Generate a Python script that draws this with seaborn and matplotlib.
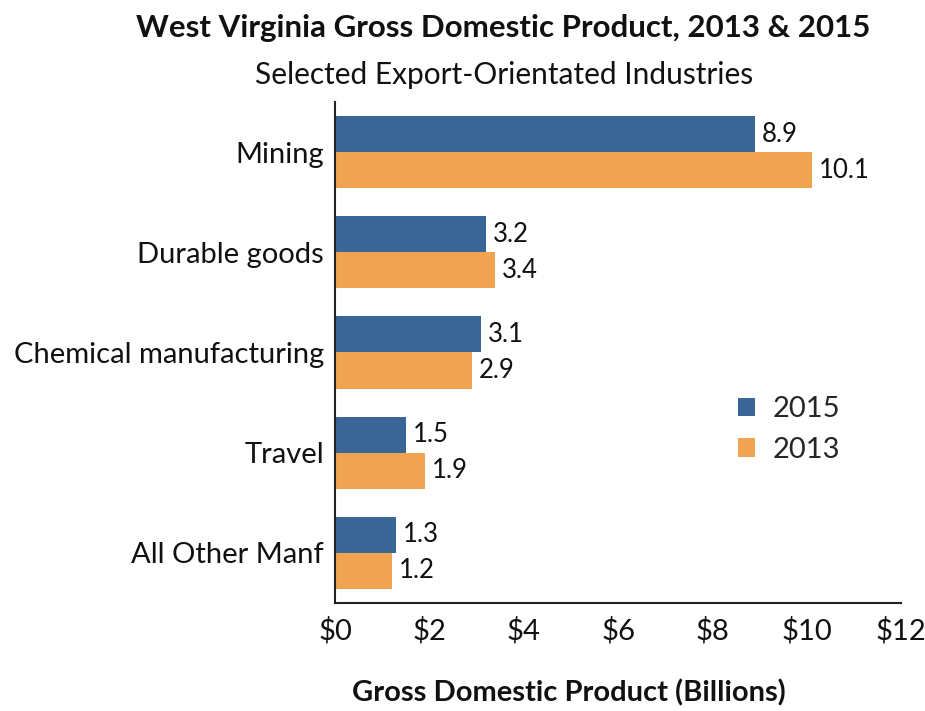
import matplotlib
matplotlib.use("Agg")
import matplotlib.pyplot as plt
import seaborn as sns
import pandas as pd

industries = ["Mining", "Durable goods", "Chemical manufacturing", "Travel", "All Other Manf"]
gdp_2015 = [8.9, 3.2, 3.1, 1.5, 1.3]
gdp_2013 = [10.1, 3.4, 2.9, 1.9, 1.2]
years = ["2015", "2013"]
x_ticks = [0, 2, 4, 6, 8, 10, 12]
x_tick_labels = ["$0", "$2", "$4", "$6", "$8", "$10", "$12"]

df = pd.DataFrame({
    "Industry": industries * 2,
    "Year": [years[0]] * len(industries) + [years[1]] * len(industries),
    "GDP": gdp_2015 + gdp_2013,
})

sns.set_theme(style="white")
plt.rcParams["font.family"] = ["Lato", "DejaVu Sans"]

fig = plt.figure(figsize=(9.25, 7.11), dpi=100)
ax = fig.add_axes([0.3622, 0.152, 0.612, 0.7045])

palette = {"2015": "#3A6597", "2013": "#F0A452"}
sns.barplot(data=df, y="Industry", x="GDP", hue="Year", hue_order=years,
            order=industries, palette=palette, orient="h", width=0.72,
            gap=0, saturation=1, linewidth=0, ax=ax, legend=True)

for container in ax.containers:
    ax.bar_label(container, fmt="%.1f", padding=5, fontsize=18.5, color="#111111")

ax.set_xlim(0, 12)
ax.set_ylim(4.5, -0.5)
ax.set_xticks(x_ticks)
ax.set_xticklabels(x_tick_labels, fontsize=21, color="#111111")
ax.tick_params(axis="y", labelsize=21, colors="#111111", length=0, pad=8)
ax.tick_params(axis="x", length=0, pad=10)
ax.set_ylabel("")
ax.set_xlabel("")

for side in ["top", "right"]:
    ax.spines[side].set_visible(False)
for side in ["left", "bottom"]:
    ax.spines[side].set_color("#222222")
    ax.spines[side].set_linewidth(1.5)

leg = ax.legend(loc="upper left", bbox_to_anchor=(0.665, 0.465), frameon=False,
                fontsize=21, handlelength=0.6, handleheight=0.6,
                handletextpad=0.6, labelspacing=0.5)

fig.text(0.544, 0.961, "West Virginia Gross Domestic Product, 2013 & 2015",
         ha="center", va="center", fontsize=22.5, fontweight="bold", color="#111111")
fig.text(0.545, 0.895, "Selected Export-Orientated Industries",
         ha="center", va="center", fontsize=21.5, color="#111111")
fig.text(0.615, 0.025, "Gross Domestic Product (Billions)",
         ha="center", va="center", fontsize=21, fontweight="bold", color="#111111")

fig.savefig("out.png", dpi=100, facecolor="white")
